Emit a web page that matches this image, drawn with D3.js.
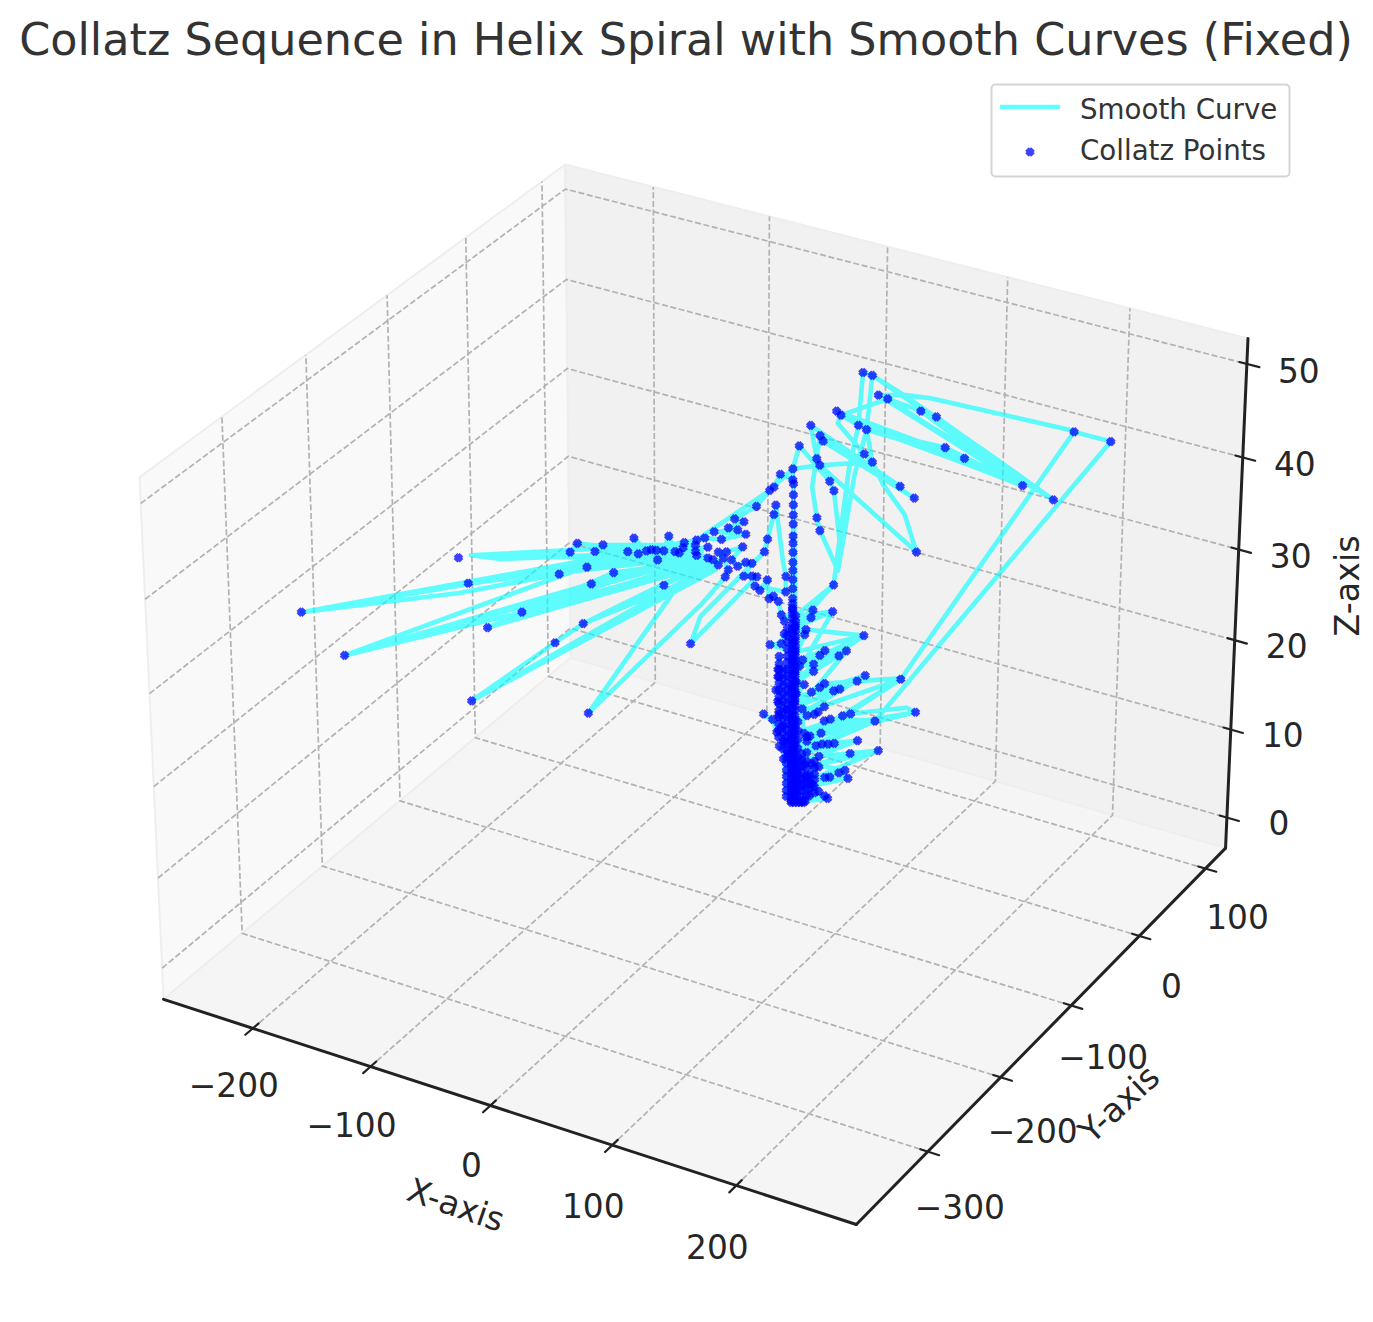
<!DOCTYPE html>
<html><head><meta charset="utf-8">
<script src="https://cdnjs.cloudflare.com/ajax/libs/d3/7.8.5/d3.min.js"></script>
<style>html,body{margin:0;padding:0;background:#fff}svg{display:block}text{font-family:"DejaVu Sans",sans-serif}</style>
</head><body><svg id="c" width="1373" height="1322"></svg>
<script>
const titleText = "Collatz Sequence in Helix Spiral with Smooth Curves (Fixed)";
const xTicks = [-200,-100,0,100,200];
const yTicks = [-300,-200,-100,0,100];
const zTicks = [0,10,20,30,40,50];
const xLimits = [-277,295], yLimits = [-395,131], zLimits = [-3.5,52.7];

const xValues = [
1,3,5,7,9,10,25,3,23,3,
19,4,15,3,13,1,26,23,3,8,
38,32,36,8,4,11,19,3,14,10,
2,5,39,57,19,1,6,17,21,44,
29,25,2,-4,-1,13,9,20,55,201,
178,71,2,22,26,55,81,75,39,34,
3,-7,-3,-8,-11,-17,1,3,-5,2,
11,16,18,8,22,1,-7,-2,14,28,
32,48,43,71,22,19,3,-8,9,4,
-9,1,-8,15,4,15,6,8,3,-8,
31,36,19,22,2,9,10,47,3,-13,
-6,-4,2,14,13,27,3,27,36,42,
44,50,71,126,166,132,91,60,54,71,
87,178,87,71,81,146,97,47,31,28,
109,146,42,31,29,46,51,58,72,80,
18,16,12,69,20,78,18,13,16,18,
30,31,27,24,5,1,1,-7,-11,-14,
-22,-36,-30,-40,-34,-49,-29,-44,-55,-60,
-68,-69,-71,-74,-78,-81,-86,-89,-92,-100,
-97,-104,-120,-61,-125,-60,-136,-141,-204,-185,
-61,-130,-206,-313,-212,-148,-53,-130,-286,-172,
-127,-53,-194,-113,-50,-133,-151,-205,-134,-46,
-60,-130,-57,-42,-40,-43,-46,-41,-31,-38,
-34,-29,-25,-30,-25,-22,-64,-58,-17,-15,
-11,-10,-5,-3,-3,-23,-20,-15,-14,-11,
-8,-6,-4,1,1,1,1,1,1,1,
1,1,1,1,1,1,1];
const yValues = [
1,2,3,4,5,6,13,1,12,2,
10,2,8,1,7,1,14,12,1,4,
20,17,19,4,2,6,10,1,8,5,
1,3,21,31,10,1,3,9,11,23,
15,13,1,-2,-1,7,5,11,29,107,
94,38,1,12,14,29,43,40,21,18,
1,-3,-2,-5,-6,-9,0,1,-3,1,
6,8,10,4,12,1,-4,-1,7,15,
17,26,23,38,12,10,1,-4,5,2,
-5,0,-4,8,2,8,3,4,1,-4,
17,19,10,12,1,5,5,25,1,-7,
-3,-2,1,8,7,14,1,15,19,22,
24,27,38,67,88,70,48,32,29,38,
46,94,46,38,43,78,51,25,16,15,
58,78,22,16,15,24,27,31,38,42,
9,8,6,36,10,41,9,7,9,10,
16,16,14,13,2,0,0,-4,-6,-7,
-12,-19,-16,-21,-18,-26,-15,-24,-29,-32,
-36,-36,-38,-39,-41,-43,-45,-47,-49,-53,
-52,-55,-63,-32,-66,-32,-72,-74,-108,-98,
-32,-69,-109,-166,-112,-78,-28,-69,-152,-91,
-68,-28,-103,-60,-26,-70,-80,-109,-71,-25,
-32,-69,-31,-22,-21,-23,-25,-22,-16,-20,
-18,-15,-13,-16,-13,-11,-34,-30,-9,-8,
-6,-5,-3,-2,-2,-12,-10,-8,-7,-6,
-4,-3,-2,1,1,1,1,1,1,1,
1,1,1,1,1,1,1];
const zValues = [
-.2,-.2,-.2,-.2,-.2,-.1,.3,.2,.6,.7,
1.1,1,1.9,1.4,2,1.7,2.7,2.7,2,1.7,
2.6,3.2,3.5,2.5,2.5,2.8,3.9,3.2,4.2,4.2,
3.6,3.4,5.4,5.7,5.1,4.3,4.5,6.3,6.5,6.9,
6.6,6.5,5.1,4.8,5.4,7.4,7.7,7.7,9.1,40,
41.1,13.8,5.9,9.1,9.3,9.2,10.1,10.6,9.9,9.7,
6.5,6.2,6.8,7.9,9.3,9.9,7.3,7.9,8.4,8.8,
9.7,9.9,10.1,10.5,10.7,9.5,9.9,10.4,12.4,12.5,
12.7,14.2,13.6,13.9,13.3,12.9,11.3,11.3,13.2,12.2,
12.6,12.8,14.1,14.7,13.5,15.5,15.3,16,14.6,14.9,
16.4,17,16.5,17,15.8,18.8,19.4,18.7,16.9,17.7,
17.8,18.9,18,21.5,20.7,21.4,19.7,24.3,36.8,41.8,
47.4,47.1,44.9,38.5,33.7,37.7,42.7,44.6,45,45,
44.7,41.2,44.7,45,43.3,35.2,39.4,41.3,42.9,43.3,
38.2,35.3,41.9,43,42,38.7,37.8,35.3,32.1,28,
37.5,38.2,41.8,35.2,40.1,33.9,40.7,35.1,31.7,30.3,
25.9,29.3,34.7,35.7,39.6,37.1,35.9,36.5,35.1,34.7,
33,31.6,31.3,30.6,30.4,30.2,29.9,29.4,29.5,29.3,
29,28.4,27.9,28,29.7,28.1,28.1,28.2,28.1,29.5,
27.8,28,28.7,28.7,28,27.6,28.9,27.9,27.6,27.2,
28,26.3,24.5,21.3,23.4,25.5,28.5,26.4,16.5,21.3,
24.5,27.3,19.6,25.7,27.1,20,17.9,11.4,18,26.6,
27.2,10,22.2,25.2,26,27.3,28,28,28.5,27.1,
26.4,26.8,26.7,25.3,25.3,25.2,17.8,20.8,28,29.4,
32.1,33.1,27,25.3,23.6,24.2,23.7,24.9,22.8,23.1,
22.5,21,20.3,21.7,22.8,23.9,24.9,25.9,26.8,27.9,
28.9,29.7,31,32,33.1,34.2,35.4];

// Curve vertices that carry no scatter marker, identified by their x and z values.
const curveOnlyX = [55,75,71,36,71,126,132,71,87,178,146,42,31,29,58,72,13,30,31,-204,-185,-212,-130,-134,-60,-57,-58,-5];
const curveOnlyZ = [9.2,10.6,13.9,36.8,44.9,38.5,37.7,45,44.7,41.2,35.3,41.9,43,42,35.3,32.1,35.1,25.9,29.3,27.6,27.2,23.4,26.4,18,27.2,22.2,20.8,27];

// Scatter points with no curve through them.
const looseX = [-212,-85,-81];
const looseY = [-112,-45,-43];
const looseZ = [27.3,27.1,24.3];

// Dense trunk of the sequence near the axis: one column of heights per x/y pair.
const trunkX = [3,-2,-7,8,13,1,-4,5,11,16];
const trunkY = [2,-1,-4,4,7,1,-3,3,6,9];
const trunkZ = [
 [20.9,20.3,19.8,19.2,18.6,18.1,17.5,17,16.4,15.9,15.3,14.7,14.2,13.6,13.1,12.5,12,11.4,10.8,10.3,9.7,9.2,8.6,8.1,7.5,6.9,6.4,5.8,5.3,4.7,4.2,3.6,3,2.5,1.9,1.4,.8,.3],
 [19.5,18.7,18,17.2,16.4,15.7,14.9,14.2,13.4,12.6,11.9,11.1,10.4,9.6,8.8,8.1,7.3,6.6,5.8,5,4.3,3.5,2.8,2,1.2,.5],
 [16.4,15.6,14.9,14.1,13.4,12.6,11.8,11.1,10.3,9.6,8.8,8.1,7.3],
 [5.4,4.7,4,3.3,2.6,1.9,1.2,.5,0],
 [3,2.2,1.4,.6],
 [22.2,21.6,21.1,20.6,20,19.4,18.9,18.3,17.7,17.1,16.6,16,15.5,14.9,14.3,13.8,13.2,12.7,12.1,11.5,11,10.4,9.8,9.3,8.7,8.2,7.6,7,6.5,5.9,5.4,4.8,4.2,3.7,3.1,2.6,2,1.4,.9,.4,0],
 [15,14.1,13.2,12.3,11.4,10.5,9.6,8.7,7.8,6.9,6],
 [9,8,7,6,5,4,3,2,1,.2],
 [7.3,6.8,5.5,4.5,3.8,2.9,2.1,1.3,.6],
 [4.5,3.8,3,2.4,1.6,.9]
];

// Further passes of the curve along the fans (no markers of their own).
const passX = [8,57,8,38,8,36,8,44,8,55,8,39,8,81,8,71,8,48,8,32,8,36,8,47,8,27,3,
 27,36,30,40,47,50,166,54,146,60,31,146,28,109,47,51,18,1,-14,-60,
 -313,-61,-206,-55,-286,-57,-172,-50,-194,-55,-133,-48,-205,-46,-204,-60];
const passY = [4,31,4,20,4,19,4,23,4,29,4,21,4,43,4,38,4,26,4,17,4,19,4,25,4,14,2,
 15,19,16,21,25,27,88,29,78,32,16,78,15,58,25,27,9,0,-7,-32,
 -166,-32,-109,-29,-152,-30,-91,-26,-103,-29,-70,-25,-109,-24,-108,-32];
const passZ = [3.7,5.7,2,2.6,1.5,3.5,4.5,6.9,5.5,9.1,6,9.9,8,10.1,7,13.8,10,14.2,12,12.7,11,17,14,18.7,15.5,21.4,20.9,
 24.3,36.8,26,36.5,41.3,47.1,33.7,45,35.2,44.6,42.9,35.2,43.3,38.2,41.3,37.8,37.5,37.1,34.7,29.3,
 21.3,28.6,24.5,27.5,16.5,28,21.3,27,19.6,26.5,20,26,11.4,27,27.6,28.9];

// ---- matplotlib-style 3D projection (elev 30, azim -60) ----
const bx=1.143, bz=.8572;
const sx3=d3.scaleLinear().domain(xLimits).range([-bx/2,bx/2]);
const sy3=d3.scaleLinear().domain(yLimits).range([-bx/2,bx/2]);
const sz3=d3.scaleLinear().domain(zLimits).range([-bz/2,bz/2]);
const el=30*Math.PI/180, az=-60*Math.PI/180;
const w=[Math.cos(el)*Math.cos(az),Math.cos(el)*Math.sin(az),Math.sin(el)];
const un=Math.hypot(w[0],w[1]);
const u=[-w[1]/un,w[0]/un,0];
const v=[w[1]*u[2]-w[2]*u[1],w[2]*u[0]-w[0]*u[2],w[0]*u[1]-w[1]*u[0]];
const dot=(p,q)=>p[0]*q[0]+p[1]*q[1]+p[2]*q[2];
const pxX=d3.scaleLinear().domain([0,1]).range([704,704+6945]);
const pxY=d3.scaleLinear().domain([0,1]).range([670,670-6945]);
function project(x,y,z){
  const p=[sx3(x),sy3(y),sz3(z)];
  const D=10-dot(w,p);
  return [pxX(dot(u,p)/D),pxY(dot(v,p)/D)];
}

const svg=d3.select("#c");
const [x0,x1]=xLimits,[y0,y1]=yLimits,[z0,z1]=zLimits;
const line=d3.line();
const poly=(pts)=>line(pts.map(p=>project(...p)))+"Z";

// Panes
const panes=svg.append("g");
[
 {c:"#f9f9f9",p:[[x0,y0,z0],[x0,y1,z0],[x0,y1,z1],[x0,y0,z1]]},
 {c:"#f1f1f1",p:[[x0,y1,z0],[x1,y1,z0],[x1,y1,z1],[x0,y1,z1]]},
 {c:"#f5f5f5",p:[[x0,y0,z0],[x1,y0,z0],[x1,y1,z0],[x0,y1,z0]]}
].forEach(d=>panes.append("path").attr("d",poly(d.p)).attr("fill",d.c).attr("stroke","#eeeeee").attr("stroke-width",2).attr("stroke-linejoin","round"));

// Grid
const grid=svg.append("g").attr("fill","none").attr("stroke","#b2b2b2").attr("stroke-width",1.7).attr("stroke-dasharray","6 2.6");
const segs=[];
xTicks.forEach(t=>segs.push([[t,y0,z0],[t,y1,z0],[t,y1,z1]]));
yTicks.forEach(t=>segs.push([[x1,t,z0],[x0,t,z0],[x0,t,z1]]));
zTicks.forEach(t=>segs.push([[x0,y0,t],[x0,y1,t],[x1,y1,t]]));
segs.forEach(s=>grid.append("path").attr("d",line(s.map(p=>project(...p)))));

// Axis lines
const axis=svg.append("g").attr("fill","none").attr("stroke","#222").attr("stroke-linecap","round");
[[[x0,y0,z0],[x1,y0,z0]],[[x1,y0,z0],[x1,y1,z0]],[[x1,y1,z0],[x1,y1,z1]]].forEach(s=>
  axis.append("path").attr("d",line(s.map(p=>project(...p)))).attr("stroke-width",3));

const tickStroke=2.2;
const label=(xy,t,size)=>svg.append("text").attr("x",xy[0]).attr("y",xy[1]).attr("text-anchor","middle").attr("dominant-baseline","central")
   .attr("font-size",size).attr("fill","#262626").text(t);
const fmt=t=>String(t).replace("-","\u2212");
const tickFont=32.8;
xTicks.forEach(t=>{
  axis.append("path").attr("stroke-width",tickStroke).attr("d",line([project(t,y0+7,z0),project(t,y0-9,z0)]));
  const p=project(t,y0,z0); label([p[0]-19,p[1]+60.5+t*.0125],fmt(t),tickFont);
});
yTicks.forEach(t=>{
  axis.append("path").attr("stroke-width",tickStroke).attr("d",line([project(x1-6,t,z0),project(x1+9,t,z0)]));
  const p=project(x1,t,z0); label([p[0]+32,p[1]+50.75-t*.0175],fmt(t),tickFont);
});
zTicks.forEach(t=>{
  axis.append("path").attr("stroke-width",tickStroke).attr("d",line([project(x1-6,y1,t),project(x1+10,y1,t)]));
  const p=project(x1,y1,t); label([p[0]+52,p[1]+6+t*.04],fmt(t),tickFont);
});
const axisTitle=(x,y,r,t)=>svg.append("text").attr("transform",`translate(${x},${y}) rotate(${r})`).attr("text-anchor","middle").attr("dominant-baseline","central").attr("font-size",33.3).attr("fill","#262626").text(t);
axisTitle(456,1205,19,"X-axis");
axisTitle(1119,1104,-43,"Y-axis");
axisTitle(1347,586,-90,"Z-axis");

// Curve + points
const curveOnly=i=>curveOnlyX.some((c,k)=>c===xValues[i]&&curveOnlyZ[k]===zValues[i]);
const vertices=xValues.map((x,i)=>({x,y:yValues[i],z:zValues[i],marked:!curveOnly(i)}));
trunkZ.forEach((col,k)=>col.forEach(z=>vertices.push({x:trunkX[k],y:trunkY[k],z,marked:true})));
passX.forEach((x,i)=>vertices.push({x,y:passY[i],z:passZ[i],marked:false}));
const curve=d3.line().x(d=>project(d.x,d.y,d.z)[0]).y(d=>project(d.x,d.y,d.z)[1]);
svg.append("path").datum(vertices).attr("d",curve).attr("fill","none").attr("stroke","#00ffff").attr("stroke-opacity",.62).attr("stroke-width",4.6).attr("stroke-linejoin","round");

const marker="M-3,-3L3,3M-3,3L3,-3";
const pts=vertices.filter(d=>d.marked).concat(looseX.map((x,i)=>({x,y:looseY[i],z:looseZ[i]})));
svg.append("g").selectAll("path").data(pts).join("path")
  .attr("transform",d=>{const p=project(d.x,d.y,d.z);return `translate(${p[0]},${p[1]})`;})
  .attr("d",marker).attr("fill","none").attr("stroke","#0000ff").attr("stroke-opacity",.75).attr("stroke-width",5.2);

// Title
svg.append("text").attr("x",686).attr("y",39).attr("text-anchor","middle").attr("dominant-baseline","central").attr("font-size",44.5).attr("fill","#333333").text(titleText);

// Legend
const lg=svg.append("g");
lg.append("rect").attr("x",991.5).attr("y",84.5).attr("width",298).attr("height",92).attr("rx",4).attr("fill","#fff").attr("fill-opacity",.8).attr("stroke","#d5d5d5").attr("stroke-width",2);
lg.append("line").attr("x1",1000).attr("x2",1060).attr("y1",107).attr("y2",107).attr("stroke","#00ffff").attr("stroke-opacity",.62).attr("stroke-width",4.6);
lg.append("path").attr("transform","translate(1030,152)").attr("d",marker).attr("fill","none").attr("stroke","#0000ff").attr("stroke-opacity",.75).attr("stroke-width",5.2);
[["Smooth Curve",109],["Collatz Points",150]].forEach(d=>lg.append("text").attr("x",1080).attr("y",d[1]).attr("dominant-baseline","central").attr("font-size",27.7).attr("fill","#333333").text(d[0]));
</script></body></html>
